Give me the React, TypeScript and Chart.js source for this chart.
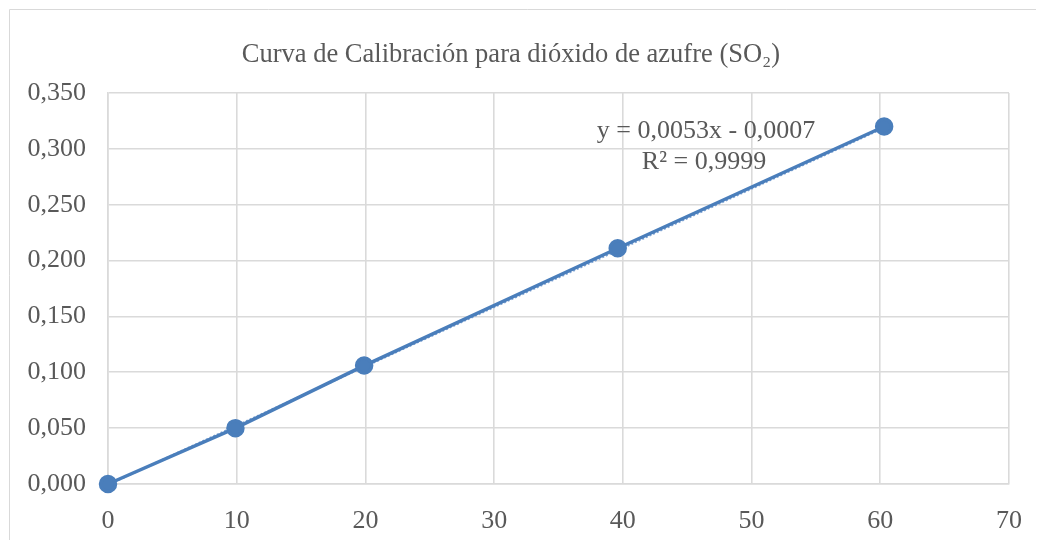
import React, { useEffect, useRef } from "react";
import { Chart, registerables } from "chart.js";

Chart.register(...registerables);

const concentrations = [0, 9.9, 19.9, 39.6, 60.3];
const absorbances = [0.0, 0.05, 0.106, 0.211, 0.32];
const trendX = [0, 60.3];
const slope = 0.0053;
const intercept = -0.0007;
const xTicks = [0, 10, 20, 30, 40, 50, 60, 70];
const yTicks = [0, 0.05, 0.1, 0.15, 0.2, 0.25, 0.3, 0.35];
const titleText = "Curva de Calibración para dióxido de azufre (SO₂)";
const equationText = "y = 0,0053x - 0,0007";
const r2Text = "R² = 0,9999";

const FONT = "'Liberation Serif', 'Times New Roman', serif";
const TEXT = "#595959";
const BLUE = "#4a7ebb";
const GRID = "#dadada";

export default function App() {
  const ref = useRef<HTMLCanvasElement>(null);
  useEffect(() => {
    if (!ref.current) return;
    const decor = {
      id: "decor",
      afterDraw(chart: any) {
        const ctx = chart.ctx;
        const a = chart.chartArea;
        ctx.save();
        ctx.strokeStyle = "#d9d9d9";
        ctx.lineWidth = 1;
        ctx.beginPath();
        ctx.moveTo(1.5, chart.height + 5);
        ctx.lineTo(1.5, 1.5);
        ctx.lineTo(chart.width + 5, 1.5);
        ctx.stroke();
        ctx.fillStyle = TEXT;
        ctx.font = `26.5px ${FONT}`;
        ctx.textAlign = "center";
        ctx.textBaseline = "middle";
        ctx.fillText(titleText, 503, 47);
        ctx.font = `26px ${FONT}`;
        ctx.fillText(equationText, a.left + 598, 123);
        ctx.fillText(r2Text, a.left + 596, 154);
        ctx.restore();
      },
    };
    const chart = new Chart(ref.current, {
      type: "scatter",
      data: {
        datasets: [
          {
            label: "Datos",
            data: concentrations.map((x, i) => ({ x, y: absorbances[i] })),
            showLine: true,
            borderColor: BLUE,
            backgroundColor: BLUE,
            borderWidth: 3.5,
            pointRadius: 7.5,
            pointHoverRadius: 7.5,
            clip: false,
            order: 1,
          },
          {
            label: "Lineal",
            data: trendX.map((x) => ({ x, y: slope * x + intercept })),
            showLine: true,
            borderColor: "#7fa3d3",
            borderWidth: 2,
            borderDash: [2, 2],
            pointRadius: 0,
            order: 2,
          },
        ],
      },
      options: {
        animation: false,
        responsive: false,
        layout: { padding: { left: 10, right: 35, top: 85, bottom: 0 } },
        plugins: { legend: { display: false }, tooltip: { enabled: false }, title: { display: false } },
        scales: {
          x: {
            type: "linear",
            min: 0,
            max: 70,
            afterBuildTicks: (s: any) => {
              s.ticks = xTicks.map((v) => ({ value: v }));
            },
            afterFit: (s: any) => {
              s.height = 56;
            },
            grid: { color: GRID, drawTicks: false, lineWidth: 1.6 },
            border: { color: GRID, width: 1.6 },
            ticks: { color: TEXT, font: { family: FONT, size: 26 }, padding: 22 },
          },
          y: {
            type: "linear",
            min: 0,
            max: 0.35,
            afterBuildTicks: (s: any) => {
              s.ticks = yTicks.map((v) => ({ value: v }));
            },
            afterFit: (s: any) => {
              s.width = 90;
            },
            grid: { color: GRID, drawTicks: false, lineWidth: 1.6 },
            border: { color: GRID, width: 1.6 },
            ticks: {
              color: TEXT,
              font: { family: FONT, size: 26 },
              padding: 22,
              callback: (v: any) => Number(v).toFixed(3).replace(".", ","),
            },
          },
        },
      },
      plugins: [decor],
    });
    return () => chart.destroy();
  }, []);
  return <canvas ref={ref} width={1036} height={532} style={{ display: "block" }} />;
}
